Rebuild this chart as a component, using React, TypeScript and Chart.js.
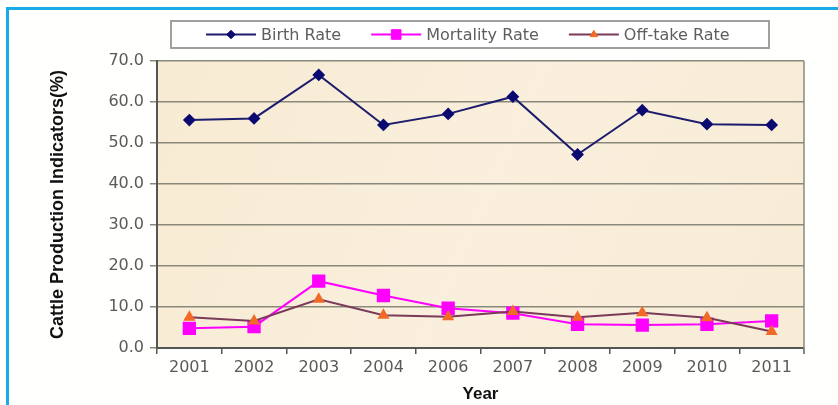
import React, { useEffect, useRef } from "react";
import { Chart, registerables } from "chart.js";

Chart.register(...registerables);

const years = ["2001", "2002", "2003", "2004", "2006", "2007", "2008", "2009", "2010", "2011"];
const birthRate = [55.6, 56.0, 66.6, 54.4, 57.1, 61.3, 47.2, 58.0, 54.6, 54.4];
const mortalityRate = [4.8, 5.2, 16.3, 12.8, 9.7, 8.5, 5.8, 5.6, 5.8, 6.6];
const offtakeRate = [7.5, 6.6, 11.9, 8.0, 7.6, 8.9, 7.5, 8.6, 7.4, 4.0];
const seriesNames = ["Birth Rate", "Mortality Rate", "Off-take Rate"];
const yTicks = [0, 10, 20, 30, 40, 50, 60, 70];

function drawMarker(ctx: CanvasRenderingContext2D, style: string, r: number, x: number, y: number) {
  ctx.beginPath();
  if (style === "rectRot") {
    ctx.moveTo(x - r, y);
    ctx.lineTo(x, y - r);
    ctx.lineTo(x + r, y);
    ctx.lineTo(x, y + r);
  } else if (style === "rect") {
    const s = Math.SQRT1_2 * r;
    ctx.rect(x - s, y - s, 2 * s, 2 * s);
  } else {
    ctx.moveTo(x, y - r);
    ctx.lineTo(x + r * 0.866, y + r * 0.5);
    ctx.lineTo(x - r * 0.866, y + r * 0.5);
  }
  ctx.closePath();
  ctx.fill();
  ctx.stroke();
}

const frame = {
  id: "frame",
  beforeDraw(chart: any) {
    const { ctx, chartArea: a, width, height } = chart;
    ctx.save();
    ctx.fillStyle = "#fffffd";
    ctx.fillRect(0, 0, width, height);
    const g = ctx.createLinearGradient(a.left, a.top, a.right, a.bottom);
    g.addColorStop(0, "#f8ebd3");
    g.addColorStop(0.5, "#f9efdc");
    g.addColorStop(1, "#f8ecd6");
    ctx.fillStyle = g;
    ctx.fillRect(a.left, a.top, a.right - a.left, a.bottom - a.top);
    ctx.restore();
  },
  afterDraw(chart: any) {
    const { ctx, chartArea: a, width, height } = chart;
    ctx.save();
    ctx.strokeStyle = "#8a8a82";
    ctx.lineWidth = 1.5;
    ctx.beginPath();
    ctx.moveTo(a.right, a.top);
    ctx.lineTo(a.right, a.bottom + 6);
    ctx.stroke();
    ctx.strokeStyle = "#1aaae8";
    ctx.lineWidth = 3;
    ctx.beginPath();
    ctx.moveTo(width, 8.5);
    ctx.lineTo(7.5, 8.5);
    ctx.lineTo(7.5, height);
    ctx.stroke();

    const boxL = 171, boxT = 21, boxR = 769, boxB = 48;
    ctx.fillStyle = "#ffffff";
    ctx.fillRect(boxL, boxT, boxR - boxL, boxB - boxT);
    ctx.strokeStyle = "#a0a0a0";
    ctx.lineWidth = 2;
    ctx.strokeRect(boxL, boxT, boxR - boxL, boxB - boxT);
    ctx.font = "16px 'DejaVu Sans'";
    ctx.textBaseline = "middle";
    const cy = (boxT + boxB) / 2;
    let x = 206;
    chart.data.datasets.forEach((ds: any) => {
      const lineLen = 50;
      ctx.strokeStyle = ds.borderColor;
      ctx.lineWidth = 2;
      ctx.beginPath();
      ctx.moveTo(x, cy);
      ctx.lineTo(x + lineLen, cy);
      ctx.stroke();
      ctx.fillStyle = ds.pointBackgroundColor;
      ctx.strokeStyle = ds.pointBorderColor;
      ctx.lineWidth = 1;
      drawMarker(ctx, ds.pointStyle, ds.pointRadius * 0.85, x + lineLen / 2, cy);
      ctx.fillStyle = "#5e5e5e";
      ctx.textAlign = "left";
      ctx.fillText(ds.label, x + lineLen + 5, cy + 1);
      x += lineLen + 5 + ctx.measureText(ds.label).width + 30;
    });
    ctx.restore();
  },
};

export default function App() {
  const ref = useRef<HTMLCanvasElement>(null);
  useEffect(() => {
    document.body.style.margin = "0";
    const chart = new Chart(ref.current!, {
      type: "line",
      data: {
        labels: years,
        datasets: [
          {
            label: seriesNames[0],
            data: birthRate,
            borderColor: "#1c1c6e",
            backgroundColor: "#0a0a70",
            pointBackgroundColor: "#0a0a70",
            pointBorderColor: "#0a0a70",
            pointStyle: "rectRot",
            pointRadius: 5,
            borderWidth: 2,
            order: 2,
          } as any,
          {
            label: seriesNames[1],
            data: mortalityRate,
            borderColor: "#ff00ff",
            backgroundColor: "#ff00ff",
            pointBackgroundColor: "#ff00ff",
            pointBorderColor: "#ff00ff",
            pointStyle: "rect",
            pointRadius: 8,
            borderWidth: 2,
            order: 1,
          } as any,
          {
            label: seriesNames[2],
            data: offtakeRate,
            borderColor: "#7a3a5a",
            backgroundColor: "#f26a28",
            pointBackgroundColor: "#f26a28",
            pointBorderColor: "#f26a28",
            pointStyle: "triangle",
            pointRadius: 5,
            borderWidth: 2,
            order: 0,
          } as any,
        ],
      },
      options: {
        animation: false,
        responsive: false,
        maintainAspectRatio: false,
        layout: { padding: { left: 10, right: 34, top: 61, bottom: 0 } },
        plugins: { legend: { display: false }, tooltip: { enabled: false } },
        scales: {
          x: {
            offset: true,
            grid: {
              offset: true,
              drawOnChartArea: false,
              drawTicks: true,
              tickLength: 6,
              color: "#555555",
              lineWidth: 1.5,
            },
            border: { color: "#555555", width: 2 },
            ticks: {
              color: "#5a5a5a",
              font: { family: "'DejaVu Sans'", size: 16 },
              padding: 4,
              maxRotation: 0,
              autoSkip: false,
            },
            title: {
              display: true,
              text: "Year",
              color: "#111111",
              font: { family: "'Liberation Sans'", size: 17, weight: "bold" },
              padding: { top: 0, bottom: 0 },
            },
            afterFit(scale: any) {
              scale.height = 57;
            },
          },
          y: {
            min: 0,
            max: 70,
            afterBuildTicks(scale: any) {
              scale.ticks = yTicks.map((v) => ({ value: v }));
            },
            grid: {
              color: "#8a887a",
              lineWidth: 1.5,
              drawTicks: true,
              tickLength: 7,
            },
            border: { color: "#555555", width: 2 },
            ticks: {
              color: "#5a5a5a",
              font: { family: "'DejaVu Sans'", size: 16 },
              padding: 6,
              callback: (v: any) => Number(v).toFixed(1),
            },
            title: {
              display: true,
              text: "Cattle Production Indicators(%)",
              color: "#111111",
              font: { family: "'Liberation Sans'", size: 18, weight: "bold" },
              padding: { top: 37, bottom: 0 },
            },
            afterFit(scale: any) {
              scale.width = 147;
            },
          },
        },
      },
      plugins: [frame],
    });
    return () => chart.destroy();
  }, []);
  return (
    <div style={{ position: "fixed", left: 0, top: 0, width: 838, height: 405 }}>
      <canvas ref={ref} width={838} height={405} style={{ width: 838, height: 405, display: "block" }} />
    </div>
  );
}
